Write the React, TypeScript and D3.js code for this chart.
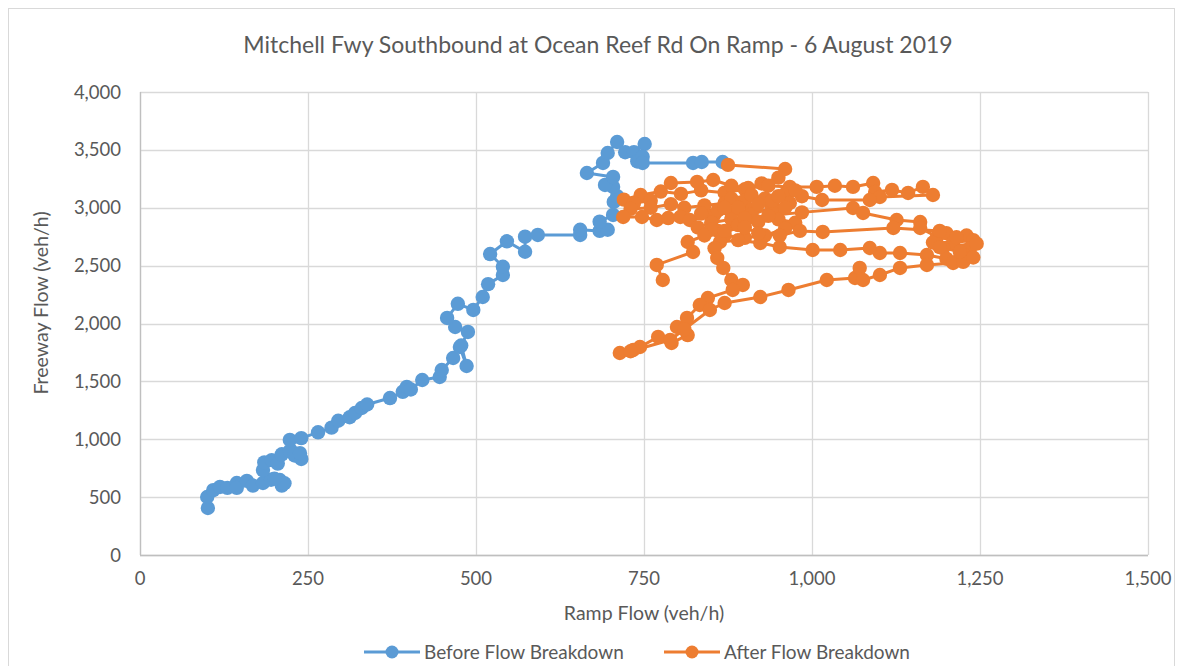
import { useRef, useEffect } from 'react'
import * as d3 from 'd3';

// Before Flow Breakdown: [ramp flow, freeway flow]
const beforeSeries: [number, number][] = [
    [101,406],[100,501],[109,560],[119,588],[130,580],[144,622],[144,580],[159,640],[168,600],[183,622],
    [195,650],[208,648],[211,600],[215,620],[200,660],[183,734],[185,800],[196,820],[205,790],[211,870],
    [223,900],[230,860],[240,830],[238,880],[223,994],[240,1010],[265,1060],[285,1100],[295,1160],[312,1190],
    [320,1227],[330,1270],[338,1300],[372,1356],[391,1410],[397,1452],[403,1430],[420,1512],[446,1538],[449,1598],
    [466,1702],[476,1797],[486,1633],[478,1810],[488,1927],[469,1970],[457,2048],[473,2170],[496,2117],[510,2229],
    [518,2340],[540,2419],[540,2490],[521,2600],[546,2710],[573,2620],[573,2750],[592,2765],[655,2765],[655,2810],
    [684,2800],[696,2810],[684,2880],[704,2938],[705,3050],[710,3100],[704,3180],[692,3197],[704,3266],[665,3300],
    [689,3387],[696,3473],[710,3568],[722,3480],[735,3480],[751,3551],[740,3400],[748,3440],[748,3387],[823,3387],
    [836,3395],[867,3395]
];

// After Flow Breakdown: [ramp flow, freeway flow]
const afterSeries: [number, number][] = [
    [875,3370],[960,3335],[950,3260],[925,3210],[900,3160],[870,3130],[835,3150],[805,3120],[775,3140],[745,3110],
    [720,3070],[735,3040],[760,3060],[790,3214],[829,3223],[853,3240],[880,3190],[905,3170],[935,3190],[967,3180],
    [1007,3180],[1034,3190],[1061,3180],[1091,3214],[1094,3136],[1119,3154],[1143,3128],[1165,3180],[1180,3110],[1101,3093],
    [1086,3067],[1015,3067],[985,3100],[960,3120],[930,3080],[900,3060],[870,3040],[840,3020],[810,3000],[790,3030],
    [760,3000],[730,2990],[719,2920],[747,2920],[769,2894],[786,2911],[804,2920],[818,2894],[850,2930],[880,2960],
    [910,2980],[945,2960],[967,3041],[940,3000],[910,2940],[880,2900],[850,2870],[830,2830],[860,2800],[890,2850],
    [920,2880],[950,2900],[975,2870],[960,2820],[930,2760],[900,2740],[870,2760],[850,2810],[880,3080],[910,3110],
    [940,3060],[960,3000],[975,3150],[950,3100],[920,3030],[890,3000],[860,2980],[835,2950],[870,3000],[900,2910],
    [935,2930],[985,2960],[1061,2998],
    [1076,2955],[1126,2894],[1161,2877],[1161,2825],[1186,2748],[1200,2780],[1230,2760],[1240,2720],[1210,2700],[1180,2700],
    [1195,2650],[1235,2650],[1225,2600],[1200,2560],[1171,2592],[1131,2609],[1101,2609],[1086,2652],[1042,2635],[1001,2635],
    [952,2661],[923,2696],[890,2720],[863,2704],[855,2650],[859,2566],[868,2480],[880,2376],[897,2333],[882,2290],
    [845,2220],[833,2160],[814,2048],[799,1970],[815,1900],[791,1832],[771,1884],[744,1797],[734,1771],[714,1745],
    [730,1760],[789,1858],[810,1950],[848,2117],[870,2177],[923,2229],[965,2290],[1022,2376],[1064,2393],[1071,2480],
    [1076,2376],[1101,2419],[1131,2480],[1171,2506],[1210,2523],[1225,2532],[1240,2570],[1220,2620],[1190,2660],[1245,2690],
    [1215,2745],[1190,2800],[1121,2825],[1016,2791],[982,2800],[952,2760],[920,2780],[900,2830],[870,2800],[840,2760],
    [815,2704],[823,2618],[769,2506],[778,2376]
];

const xTicks = [0, 250, 500, 750, 1000, 1250, 1500];
const yTicks = [0, 500, 1000, 1500, 2000, 2500, 3000, 3500, 4000];

const seriesNames = ["Before Flow Breakdown", "After Flow Breakdown"];
const seriesColors = ["#5B9BD5", "#ED7D31"];

const chartTitle = "Mitchell Fwy Southbound at Ocean Reef Rd On Ramp - 6 August 2019";
const xTitle = "Ramp Flow (veh/h)";
const yTitle = "Freeway Flow (veh/h)";

function App() {
    const d3Container = useRef(null);

    const width = 1181;
    const height = 666;

    useEffect(() => {
        const marginLeft = 140;
        const marginRight = 1148;
        const marginTop = 92;
        const marginBottom = 555;
        const font = "Lato, 'Open Sans', sans-serif";
        const textColor = "#595959";

        const svg = d3.select(d3Container.current);
        svg.selectAll("*").remove();

        // chart area border
        svg.append("rect")
           .attr("x", 8.5)
           .attr("y", 8.5)
           .attr("width", 1166)
           .attr("height", 680)
           .attr("fill", "#fff")
           .attr("stroke", "#D9D9D9");

        const x = d3.scaleLinear().domain([0, 1500]).range([marginLeft, marginRight]);
        const y = d3.scaleLinear().domain([0, 4000]).range([marginBottom, marginTop]);
        const fmt = d3.format(",");

        // gridlines
        svg.append("g")
           .attr("stroke", "#D9D9D9")
           .attr("stroke-width", 1.3)
           .selectAll()
           .data(yTicks)
           .join("line")
           .attr("x1", marginLeft)
           .attr("x2", marginRight)
           .attr("y1", (d) => Math.round(y(d)) + 0.5)
           .attr("y2", (d) => Math.round(y(d)) + 0.5);

        svg.append("g")
           .attr("stroke", "#D9D9D9")
           .attr("stroke-width", 1.3)
           .selectAll()
           .data(xTicks)
           .join("line")
           .attr("x1", (d) => Math.round(x(d)) + 0.5)
           .attr("x2", (d) => Math.round(x(d)) + 0.5)
           .attr("y1", marginTop)
           .attr("y2", marginBottom);

        // axis lines
        svg.append("line")
           .attr("x1", marginLeft + 0.5).attr("x2", marginLeft + 0.5)
           .attr("y1", marginTop).attr("y2", marginBottom)
           .attr("stroke", "#BFBFBF").attr("stroke-width", 1.3);
        svg.append("line")
           .attr("x1", marginLeft).attr("x2", marginRight)
           .attr("y1", marginBottom + 0.5).attr("y2", marginBottom + 0.5)
           .attr("stroke", "#BFBFBF").attr("stroke-width", 1.3);

        // tick labels
        svg.append("g")
           .selectAll()
           .data(yTicks)
           .join("text")
           .attr("x", marginLeft - 19)
           .attr("y", (d) => y(d) + 6.5)
           .attr("text-anchor", "end")
           .attr("font-family", font)
           .attr("font-size", 18.5)
           .attr("fill", textColor)
           .text((d) => fmt(d));

        svg.append("g")
           .selectAll()
           .data(xTicks)
           .join("text")
           .attr("x", (d) => x(d))
           .attr("y", marginBottom + 30)
           .attr("text-anchor", "middle")
           .attr("font-family", font)
           .attr("font-size", 18.5)
           .attr("fill", textColor)
           .text((d) => fmt(d));

        // series
        const line = d3.line<[number, number]>()
                       .x((d) => x(d[0]))
                       .y((d) => y(d[1]));

        [beforeSeries, afterSeries].forEach((data, i) => {
            const g = svg.append("g");
            g.append("path")
             .datum(data)
             .attr("fill", "none")
             .attr("stroke", seriesColors[i])
             .attr("stroke-width", 3)
             .attr("stroke-linejoin", "round")
             .attr("d", line);
            g.selectAll("circle")
             .data(data)
             .join("circle")
             .attr("cx", (d) => x(d[0]))
             .attr("cy", (d) => y(d[1]))
             .attr("r", 7.2)
             .attr("fill", seriesColors[i]);
        });

        // titles
        svg.append("text")
           .attr("x", 598)
           .attr("y", 53)
           .attr("text-anchor", "middle")
           .attr("font-family", font)
           .attr("font-size", 23)
           .attr("fill", textColor)
           .text(chartTitle);

        svg.append("text")
           .attr("x", (marginLeft + marginRight) / 2)
           .attr("y", 620)
           .attr("text-anchor", "middle")
           .attr("font-family", font)
           .attr("font-size", 19.5)
           .attr("fill", textColor)
           .text(xTitle);

        svg.append("text")
           .attr("transform", `translate(48,303) rotate(-90)`)
           .attr("text-anchor", "middle")
           .attr("font-family", font)
           .attr("font-size", 19.5)
           .attr("fill", textColor)
           .text(yTitle);

        // legend
        const legendX = [392, 692];
        seriesNames.forEach((name, i) => {
            const cx = legendX[i];
            svg.append("line")
               .attr("x1", cx - 28).attr("x2", cx + 28)
               .attr("y1", 652).attr("y2", 652)
               .attr("stroke", seriesColors[i])
               .attr("stroke-width", 3);
            svg.append("circle")
               .attr("cx", cx).attr("cy", 652).attr("r", 6.5)
               .attr("fill", seriesColors[i]);
            svg.append("text")
               .attr("x", cx + 32)
               .attr("y", 659)
               .attr("font-family", font)
               .attr("font-size", 19)
               .attr("fill", textColor)
               .text(name);
        });
    });

    return (
        <>
            <svg width={width}
                 height={height}
                 style={{ position: "absolute", left: 0, top: 0 }}
                 ref={d3Container} />
        </>
    )
}

export default App;
